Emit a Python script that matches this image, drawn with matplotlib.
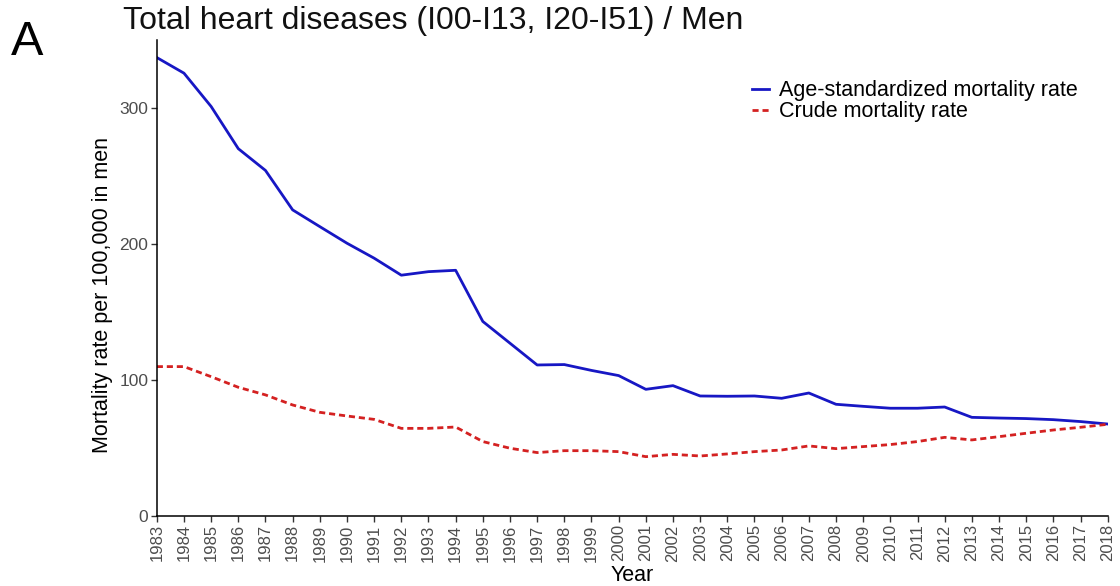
import matplotlib
matplotlib.use("Agg")
import matplotlib.pyplot as plt

plt.rcParams["font.family"] = ["Liberation Sans", "DejaVu Sans"]

years = list(range(1983, 2019))
age_standardized = [
    337, 325.5, 301, 270, 254, 225, 212.7, 200.5, 189.5, 177, 179.6, 180.6,
    143, 127, 111, 111.3, 107, 103.2, 93.1, 95.8, 88.2, 88, 88.2, 86.5,
    90.4, 82.1, 80.6, 79.2, 79.2, 80.1, 72.5, 72, 71.6, 70.8, 69.4, 67.6,
]
crude = [
    109.8, 109.8, 102.4, 94.6, 89, 81.6, 76.2, 73.5, 71, 64.4, 64.4, 65.4,
    54.7, 49.8, 46.6, 48, 48, 47.3, 43.6, 45.3, 44.1, 45.6, 47.3, 48.5,
    51.5, 49.5, 51, 52.5, 54.7, 57.8, 55.9, 58.3, 60.8, 63.2, 65.2, 67.4,
]
y_ticks = [0, 100, 200, 300]

fig = plt.figure(figsize=(11.2, 5.86), dpi=100)
ax = fig.add_axes([0.140, 0.1195, 0.849, 0.8125])

ax.plot(years, age_standardized, color="#1717c4", linewidth=2.0,
        label="Age-standardized mortality rate")
ax.plot(years, crude, color="#d42121", linewidth=2.0, linestyle=(0, (2.2, 1.4)),
        label="Crude mortality rate")

ax.set_xlim(years[0], years[-1])
ax.set_ylim(0, 350)
ax.set_xticks(years)
ax.set_xticklabels([str(y) for y in years], rotation=90)
ax.set_yticks(y_ticks)
ax.tick_params(axis="both", labelcolor="#4d4d4d", color="#333333", length=4, width=1)
ax.tick_params(axis="x", labelsize=12, pad=2)
ax.tick_params(axis="y", labelsize=12.5, pad=2)
for side in ("top", "right"):
    ax.spines[side].set_visible(False)
for side in ("left", "bottom"):
    ax.spines[side].set_linewidth(1.1)
    ax.spines[side].set_color("black")

ax.set_xlabel("Year", fontsize=15.5)
ax.xaxis.set_label_coords(0.5, -0.124)
ax.xaxis.label.set_va("center")
ax.set_ylabel("Mortality rate per 100,000 in men", fontsize=15.5)
ax.yaxis.set_label_coords(-0.046, 0.464)

fig.text(0.110, 0.951, "Total heart diseases (I00-I13, I20-I51) / Men",
         fontsize=23, va="baseline", ha="left", color="#111111")
fig.text(0.010, 0.906, "A", fontsize=35, va="baseline", ha="left")

ax.legend(loc="upper left", bbox_to_anchor=(0.617, 0.933), frameon=False,
          fontsize=15.5, handlelength=0.8, handletextpad=0.45, labelspacing=0.0,
          borderaxespad=0)

fig.savefig("out.png", dpi=100)
